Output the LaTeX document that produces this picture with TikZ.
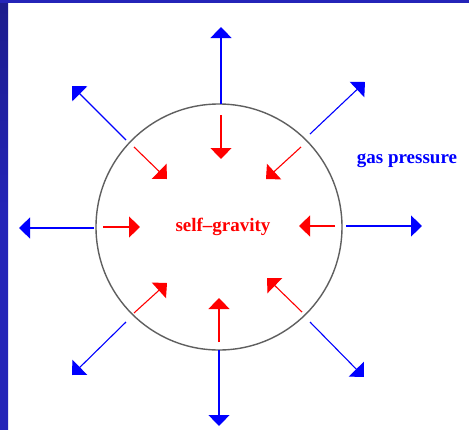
\documentclass[tikz,border=0pt]{standalone}
\usepackage{fontspec}
\setmainfont{Liberation Serif}
\usetikzlibrary{arrows.meta}
\definecolor{frameblue}{RGB}{36,36,184}
\definecolor{framedark}{RGB}{28,28,140}
\definecolor{rimgray}{RGB}{95,95,95}
\tikzset{
  push/.style={line width=1.1pt, draw=blue, -{Triangle[width=21pt,length=11pt]}},
  pull/.style={line width=1.1pt, draw=red, -{Triangle[width=21pt,length=11pt]}},
  lbl/.style={font=\bfseries\fontsize{19}{21}\selectfont, inner sep=0pt}
}
\begin{document}
\begin{tikzpicture}[x=1pt,y=-1pt]
\useasboundingbox (0,0) rectangle (469,429);
\fill[white] (0,0) rectangle (469,429);
% frame bars
\shade[top color=framedark, bottom color=frameblue, middle color=frameblue] (0,0) rectangle (8,429);
\fill[frameblue] (0,0) rectangle (469,3);
% star
\node[circle, draw=rimgray, line width=1.4pt, minimum size=246pt, inner sep=0pt] (star) at (219,227) {};
% blue coordinates
\coordinate (bTs) at (221,104); \coordinate (bTe) at (221,27);
\coordinate (bBs) at (219,350); \coordinate (bBe) at (219,426);
\coordinate (bLs) at (94,228);  \coordinate (bLe) at (19,228);
\coordinate (bRs) at (346,226); \coordinate (bRe) at (422,226);
\coordinate (bTLs) at (126,140); \coordinate (bTLe) at (72,86);
\coordinate (bTRs) at (310,134); \coordinate (bTRe) at (365,82);
\coordinate (bBLs) at (126,322); \coordinate (bBLe) at (72,375);
\coordinate (bBRs) at (310,322); \coordinate (bBRe) at (364,377);
% red coordinates
\coordinate (rTs) at (221,115); \coordinate (rTe) at (221,159);
\coordinate (rBs) at (219,342); \coordinate (rBe) at (219,298);
\coordinate (rLs) at (103,227); \coordinate (rLe) at (140,227);
\coordinate (rRs) at (335,226); \coordinate (rRe) at (299,226);
\coordinate (rTLs) at (134,147); \coordinate (rTLe) at (167,179);
\coordinate (rTRs) at (301,147); \coordinate (rTRe) at (266,179);
\coordinate (rBLs) at (134,313); \coordinate (rBLe) at (167,283);
\coordinate (rBRs) at (302,312); \coordinate (rBRe) at (267,278);
% gas pressure arrows
\foreach \k in {T,B,L,R,TL,TR,BL,BR} \draw[push] (b\k s) -- (b\k e);
% self-gravity arrows
\foreach \k in {T,B,L,R,TL,TR,BL,BR} \draw[pull] (r\k s) -- (r\k e);
% labels
\node[lbl, text=blue] (gas) at (407,161) {gas pressure};
\node[lbl, text=red] (grav) at (223,227) {self–gravity};
\end{tikzpicture}
\end{document}
